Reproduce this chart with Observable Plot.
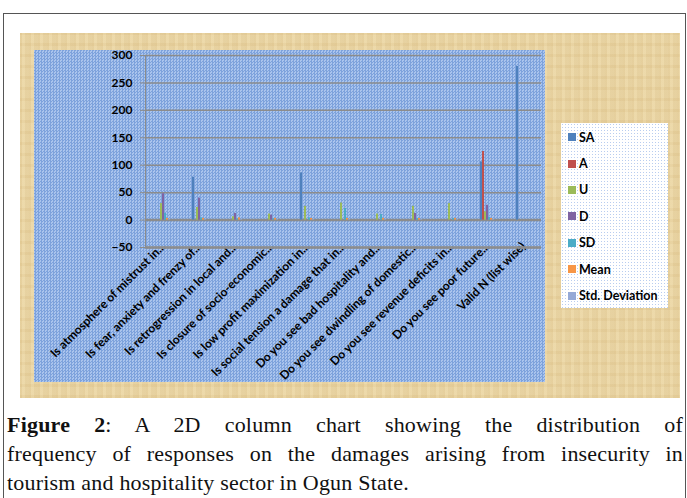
<!DOCTYPE html>
<html>
<head>
<meta charset="utf-8">
<script src="https://cdn.jsdelivr.net/npm/d3@7"></script>
<script src="https://cdn.jsdelivr.net/npm/@observablehq/plot@0.6"></script>
<style>
html,body{margin:0;padding:0;background:#fff;width:687px;height:498px;overflow:hidden;}
#frame{position:absolute;left:3px;top:13px;width:683px;height:520px;border:1.5px solid #555;border-bottom:none;box-sizing:border-box;}
#beige{position:absolute;left:20px;top:33px;width:660px;height:365px;background-color:#e9d4a3;
  background-image:repeating-linear-gradient(90deg,rgba(190,150,80,0.10) 0 2px,rgba(255,240,200,0.10) 2px 5px,rgba(170,130,60,0.06) 5px 9px),
  repeating-linear-gradient(0deg,rgba(200,160,90,0.08) 0 3px,rgba(255,245,210,0.08) 3px 11px);}
#blue{position:absolute;left:34px;top:50px;width:511px;height:332px;background-color:#8fb0e2;
  background-image:repeating-conic-gradient(#7da2dc 0 25%,#aac4ed 0 50%);background-size:3px 3px;}
#chart{position:absolute;left:34px;top:50px;}
#chart svg text{fill:#000;}
#legend{position:absolute;left:561px;top:123px;width:107px;height:185px;background-color:#fff;
  background-image:radial-gradient(#b9cdef 0.8px,transparent 1px);background-size:3px 3px;box-sizing:border-box;padding-top:1px;}
.li{height:26.4px;display:flex;align-items:center;font-family:Lato,sans-serif;font-weight:bold;font-size:12.5px;color:#000;padding-left:7px;}
.sw{width:8px;height:8px;margin-right:3px;flex:none;}
#caption{position:absolute;left:7px;top:410px;width:676px;font-family:"Liberation Serif",serif;font-size:22px;letter-spacing:0.2px;line-height:29px;color:#111;}
#caption .j{display:block;text-align:justify;text-align-last:justify;}
#caption .l{display:block;}
</style>
</head>
<body>
<div id="frame"></div>
<div id="beige"></div>
<div id="blue"></div>
<div id="chart"></div>
<div id="legend"></div>
<div id="caption">
<span class="j"><b>Figure 2</b>: A 2D column chart showing the distribution of</span>
<span class="j">frequency of responses on the damages arising from insecurity in</span>
<span class="l">tourism and hospitality sector in Ogun State.</span>
</div>
<script>
const categories = [
  "Is atmosphere of mistrust in...",
  "Is fear, anxiety and frenzy of...",
  "Is retrogression in local and...",
  "Is closure of socio-economic...",
  "Is low profit maximization in...",
  "Is social tension a damage that in...",
  "Do you see bad hospitality and...",
  "Do you see dwindling of domestic...",
  "Do you see revenue deficits in...",
  "Do you see poor future...",
  "Valid N (list wise)"
];
const seriesNames = ["SA", "A", "U", "D", "SD", "Mean", "Std. Deviation"];
const SA   = [0, 78, 0, 0, 86, 0, 0, 0, 0, 106, 280];
const A    = [0, 0, 0, 0, 0, 0, 0, 0, 0, 125, 0];
const U    = [30, 23, 6, 11, 25, 31, 11, 25, 30, 15, 0];
const D    = [48, 40, 12, 9, 0, 0, 0, 12, 0, 27, 0];
const SD   = [12, 4, 2, 2, 4, 21, 10, 3, 3, 5, 0];
const Mean = [3, 3, 4, 3, 3, 3, 3, 3, 3, 3, 0];
const Std  = [1, 1, 1, 1, 1, 1, 1, 1, 1, 1, 0];
const yTicks = [-50, 0, 50, 100, 150, 200, 250, 300];
const colors = ["#4f81bd", "#c0504d", "#9bbb59", "#8064a2", "#4bacc6", "#f79646", "#95a9d6"];

const seriesValues = [SA, A, U, D, SD, Mean, Std];
const data = [];
categories.forEach((c, i) => seriesNames.forEach((s, j) => {
  data.push({category: c, series: s, value: seriesValues[j][i]});
}));

const chart = Plot.plot({
  width: 511,
  height: 332,
  marginLeft: 111,
  marginRight: 4,
  marginTop: 5,
  marginBottom: 135,
  style: {background: "transparent", fontFamily: "Lato, sans-serif", fontSize: "12px", fontWeight: "bold", color: "#8c8c8c", overflow: "visible"},
  fx: {domain: categories, padding: 0, label: null, axis: "bottom", tickRotate: -45, tickSize: 0, tickPadding: -3},
  x: {domain: seriesNames, axis: null, paddingInner: 0.1, paddingOuter: 4.3},
  y: {domain: [-50, 300], ticks: yTicks, label: null, tickSize: 5, tickPadding: 8, line: true},
  color: {domain: seriesNames, range: colors},
  marks: [
    Plot.ruleY(yTicks, {stroke: "#8c8c8c", strokeWidth: 1.5}),
    Plot.ruleY([0, -50], {stroke: "#8c8c8c", strokeWidth: 2.5}),
    Plot.barY(data.filter(d => d.value > 0), {fx: "category", x: "series", y: "value", fill: "series"})
  ]
});
document.getElementById("chart").appendChild(chart);

const legend = document.getElementById("legend");
seriesNames.forEach((s, j) => {
  const row = document.createElement("div");
  row.className = "li";
  const sw = document.createElement("span");
  sw.className = "sw";
  sw.style.background = colors[j];
  const t = document.createElement("span");
  t.textContent = s;
  row.appendChild(sw);
  row.appendChild(t);
  legend.appendChild(row);
});
</script>
</body>
</html>
